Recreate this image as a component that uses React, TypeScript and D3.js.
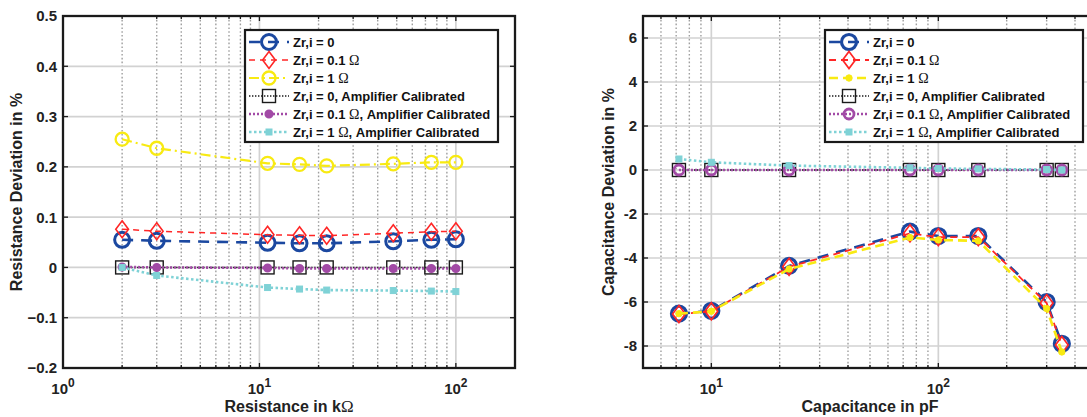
import React from 'react';
import * as d3 from 'd3';

// ---------- DATA ----------
const resX = [2, 3, 11, 16, 22, 48, 75, 100];
const resZr0 = [0.055, 0.053, 0.049, 0.048, 0.048, 0.052, 0.055, 0.056];
const resZr01 = [0.076, 0.072, 0.065, 0.064, 0.063, 0.068, 0.071, 0.072];
const resZr1 = [0.255, 0.237, 0.207, 0.205, 0.202, 0.206, 0.209, 0.209];
const resZr0Cal = [0, 0, 0, 0, 0, 0, 0, 0];
const resZr01Cal = [0.001, 0, -0.001, -0.002, -0.002, -0.002, -0.002, -0.002];
const resZr1Cal = [0, -0.016, -0.04, -0.043, -0.045, -0.046, -0.047, -0.048];

const capX = [7.2, 10, 22, 75, 100, 150, 300, 350];
const capZr0 = [-6.53, -6.4, -4.36, -2.8, -3.0, -3.0, -6.0, -7.9];
const capZr01 = [-6.55, -6.42, -4.4, -2.88, -3.05, -3.05, -6.05, -7.95];
const capZr1 = [-6.53, -6.42, -4.5, -3.07, -3.18, -3.22, -6.3, -8.27];
const capZr0Cal = [0, 0, 0, 0, 0, 0, 0, 0];
const capZr01Cal = [0, 0, 0, 0, 0, 0, 0, 0];
const capZr1Cal = [0.5, 0.35, 0.2, 0.1, 0.07, 0.05, 0.02, 0.0];

const legendLabels = [
  ['Zr,i = 0', ''],
  ['Zr,i = 0.1 ', 'Ω', ''],
  ['Zr,i = 1 ', 'Ω', ''],
  ['Zr,i = 0, Amplifier Calibrated'],
  ['Zr,i = 0.1 ', 'Ω', ', Amplifier Calibrated'],
  ['Zr,i = 1 ', 'Ω', ', Amplifier Calibrated'],
];

const resYTicks = [-0.2, -0.1, 0, 0.1, 0.2, 0.3, 0.4, 0.5];
const capYTicks = [-8, -6, -4, -2, 0, 2, 4, 6];

// ---------- STYLES ----------
const BLUE = '#1b48a0';
const RED = '#ff2626';
const YELLOW = '#f8ea12';
const BLACK = '#1a1a1a';
const PURPLE = '#a24aa6';
const CYAN = '#7fd2d6';
const FONT = '"Liberation Sans", Arial, Helvetica, sans-serif';
const SERIF = '"Liberation Serif", "Times New Roman", serif';

type Style = {
  color: string; width: number; dash: string;
  marker: 'circle' | 'diamond' | 'square' | 'dot' | 'fsquare' | 'ring';
  size: number; mw: number;
};

const leftStyles: Style[] = [
  { color: BLUE, width: 2.6, dash: '11,8', marker: 'circle', size: 7.5, mw: 3 },
  { color: RED, width: 1.5, dash: '6,5', marker: 'diamond', size: 8.5, mw: 1.6 },
  { color: YELLOW, width: 2.2, dash: '10,4,2,4', marker: 'circle', size: 6.5, mw: 2.3 },
  { color: BLACK, width: 1.6, dash: '1.4,1.6', marker: 'square', size: 6.5, mw: 1.4 },
  { color: PURPLE, width: 2.6, dash: '2,2', marker: 'dot', size: 3.8, mw: 1.5 },
  { color: CYAN, width: 2.6, dash: '2.5,2.5', marker: 'fsquare', size: 3, mw: 1 },
];
const rightStyles: Style[] = [
  { color: BLUE, width: 2.6, dash: '11,8', marker: 'circle', size: 7.5, mw: 3.2 },
  { color: RED, width: 1.8, dash: '7,5', marker: 'diamond', size: 8.5, mw: 1.7 },
  { color: YELLOW, width: 2.6, dash: '9,5', marker: 'dot', size: 3.2, mw: 1 },
  { color: BLACK, width: 1.6, dash: '1.4,1.6', marker: 'square', size: 6.5, mw: 1.4 },
  { color: PURPLE, width: 2.6, dash: '2,2', marker: 'ring', size: 5, mw: 2.8 },
  { color: CYAN, width: 2.6, dash: '2.5,2.5', marker: 'fsquare', size: 3, mw: 1 },
];

function Marker({ x, y, s }: { x: number; y: number; s: Style }) {
  const r = s.size;
  switch (s.marker) {
    case 'circle':
    case 'ring':
      return <circle cx={x} cy={y} r={r} fill="none" stroke={s.color} strokeWidth={s.mw} />;
    case 'diamond':
      return (
        <path d={`M${x},${y - r}L${x + r * 0.75},${y}L${x},${y + r}L${x - r * 0.75},${y}Z`}
          fill="none" stroke={s.color} strokeWidth={s.mw} />
      );
    case 'square':
      return <rect x={x - r} y={y - r} width={2 * r} height={2 * r} fill="none" stroke={s.color} strokeWidth={s.mw} />;
    case 'dot':
      return <circle cx={x} cy={y} r={r} fill={s.color} stroke={s.color} strokeWidth={s.mw} />;
    case 'fsquare':
      return <rect x={x - r} y={y - r} width={2 * r} height={2 * r} fill={s.color} stroke={s.color} strokeWidth={s.mw} />;
  }
  return null;
}

type ChartProps = {
  xDomain: [number, number]; yDomain: [number, number];
  left: number; right: number; top: number; bottom: number;
  xs: number[]; series: number[][]; styles: Style[];
  yTicks: number[]; yFmt: (v: number) => string;
  xLabel: React.ReactNode; yLabel: string; yLabelX: number;
  legendX: number; legendW: number; id: string;
};

function Chart(p: ChartProps) {
  const x = d3.scaleLog().domain(p.xDomain).range([p.left, p.right]);
  const y = d3.scaleLinear().domain(p.yDomain).range([p.bottom, p.top]);
  const lo = Math.floor(Math.log10(p.xDomain[0]));
  const hi = Math.ceil(Math.log10(p.xDomain[1]));
  const majors: number[] = [];
  const minors: number[] = [];
  for (let e = lo; e <= hi; e++) {
    for (let k = 1; k < 10; k++) {
      const v = k * Math.pow(10, e);
      if (v < p.xDomain[0] * 0.999 || v > p.xDomain[1] * 1.001) continue;
      if (k === 1) majors.push(v); else minors.push(v);
    }
  }
  const line = d3.line<number>().x((_, i) => x(p.xs[i])).y((d) => y(d));
  const ticklen = 5;
  const rows = [42, 60, 78, 96, 114, 132];
  return (
    <g>
      <defs>
        <clipPath id={p.id}>
          <rect x={p.left} y={p.top} width={p.right - p.left} height={p.bottom - p.top} />
        </clipPath>
      </defs>
      <rect x={p.left} y={p.top} width={p.right - p.left} height={p.bottom - p.top} fill="#fff" />
      {/* grid */}
      {minors.map((v) => (
        <line key={'mg' + v} x1={x(v)} x2={x(v)} y1={p.top} y2={p.bottom}
          stroke="#9e9e9e" strokeWidth={1.4} strokeDasharray="1.6,2.2" />
      ))}
      {majors.map((v) => (
        <line key={'Mg' + v} x1={x(v)} x2={x(v)} y1={p.top} y2={p.bottom} stroke="#d2d2d2" strokeWidth={1.7} />
      ))}
      {p.yTicks.map((v) => (
        <line key={'yg' + v} x1={p.left} x2={p.right} y1={y(v)} y2={y(v)} stroke="#d2d2d2" strokeWidth={1.7} />
      ))}
      {/* data */}
      <g clipPath={`url(#${p.id})`}>
        {p.series.map((vals, si) => {
          const s = p.styles[si];
          return (
            <g key={'s' + si}>
              <path d={line(vals) || ''} fill="none" stroke={s.color} strokeWidth={s.width} strokeDasharray={s.dash} />
              {vals.map((v, i) => (
                <Marker key={i} x={x(p.xs[i])} y={y(v)} s={s} />
              ))}
            </g>
          );
        })}
      </g>
      {/* ticks */}
      {p.yTicks.map((v) => (
        <g key={'yt' + v}>
          <line x1={p.left} x2={p.left + ticklen} y1={y(v)} y2={y(v)} stroke={BLACK} strokeWidth={1.3} />
          <line x1={p.right} x2={p.right - ticklen} y1={y(v)} y2={y(v)} stroke={BLACK} strokeWidth={1.3} />
          <text x={p.left - 6} y={y(v)} dy="0.36em" textAnchor="end" fontFamily={FONT} fontWeight="bold"
            fontSize={15} fill="#222">{p.yFmt(v)}</text>
        </g>
      ))}
      {majors.map((v) => (
        <g key={'xt' + v}>
          <line x1={x(v)} x2={x(v)} y1={p.bottom} y2={p.bottom - ticklen} stroke={BLACK} strokeWidth={1.3} />
          <line x1={x(v)} x2={x(v)} y1={p.top} y2={p.top + ticklen} stroke={BLACK} strokeWidth={1.3} />
          <text x={x(v)} y={394} textAnchor="middle" fontFamily={FONT} fontWeight="bold" fontSize={15} fill="#222">
            10<tspan fontSize={12} dy={-7}>{Math.round(Math.log10(v))}</tspan>
          </text>
        </g>
      ))}
      {minors.map((v) => (
        <g key={'mt' + v}>
          <line x1={x(v)} x2={x(v)} y1={p.bottom} y2={p.bottom - 3} stroke={BLACK} strokeWidth={1.3} />
          <line x1={x(v)} x2={x(v)} y1={p.top} y2={p.top + 3} stroke={BLACK} strokeWidth={1.3} />
        </g>
      ))}
      {/* frame */}
      <rect x={p.left} y={p.top} width={p.right - p.left} height={p.bottom - p.top} fill="none" stroke={BLACK} strokeWidth={2.3} />
      {/* labels */}
      <text x={(p.left + p.right) / 2} y={412} textAnchor="middle" fontFamily={FONT} fontWeight="bold" fontSize={16} fill="#222">
        {p.xLabel}
      </text>
      <text transform={`translate(${p.yLabelX},${(p.top + p.bottom) / 2}) rotate(-90)`} textAnchor="middle"
        fontFamily={FONT} fontWeight="bold" fontSize={16} fill="#222">{p.yLabel}</text>
      {/* legend */}
      <rect x={p.legendX} y={30} width={p.legendW} height={112} fill="#fff" stroke={BLACK} strokeWidth={2.2} />
      {rows.map((ry, i) => {
        const s = p.styles[i];
        const lx = p.legendX + 4;
        const parts = legendLabels[i];
        return (
          <g key={'lg' + i}>
            <line x1={lx} x2={lx + 40} y1={ry} y2={ry} stroke={s.color} strokeWidth={s.width} strokeDasharray={s.dash} />
            <Marker x={lx + 20} y={ry} s={s} />
            <text x={p.legendX + 48} y={ry + 4.8} fontFamily={FONT} fontWeight="bold" fontSize={13} fill="#111">
              {parts[0]}
              {parts.length > 1 && parts[1] === 'Ω' ? (
                <tspan fontFamily={SERIF} fontWeight="normal" fontSize={14}>Ω</tspan>
              ) : null}
              {parts.length > 2 ? parts[2] : null}
            </text>
          </g>
        );
      })}
    </g>
  );
}

export default function App() {
  return (
    <svg width={1087} height={417} style={{ position: 'absolute', left: 0, top: 0, background: '#fff' }}>
      <rect x={0} y={0} width={1087} height={417} fill="#fff" />
      <Chart id="cl" xDomain={[1, 200]} yDomain={[-0.2, 0.5]} left={63} right={515} top={16} bottom={368}
        xs={resX} series={[resZr0, resZr01, resZr1, resZr0Cal, resZr01Cal, resZr1Cal]} styles={leftStyles}
        yTicks={resYTicks} yFmt={(v) => (v === 0 ? '0' : d3.format('.1f')(v))}
        xLabel={<>Resistance in k<tspan fontFamily={SERIF} fontWeight="normal" fontSize={17}>Ω</tspan></>}
        yLabel="Resistance Deviation in %" yLabelX={22} legendX={245} legendW={253} />
      <Chart id="cr" xDomain={[5, 500]} yDomain={[-9, 7]} left={643} right={1097} top={16} bottom={368}
        xs={capX} series={[capZr0, capZr01, capZr1, capZr0Cal, capZr01Cal, capZr1Cal]} styles={rightStyles}
        yTicks={capYTicks} yFmt={(v) => String(v)}
        xLabel="Capacitance in pF" yLabel="Capacitance Deviation in %" yLabelX={614} legendX={825} legendW={258} />
    </svg>
  );
}
